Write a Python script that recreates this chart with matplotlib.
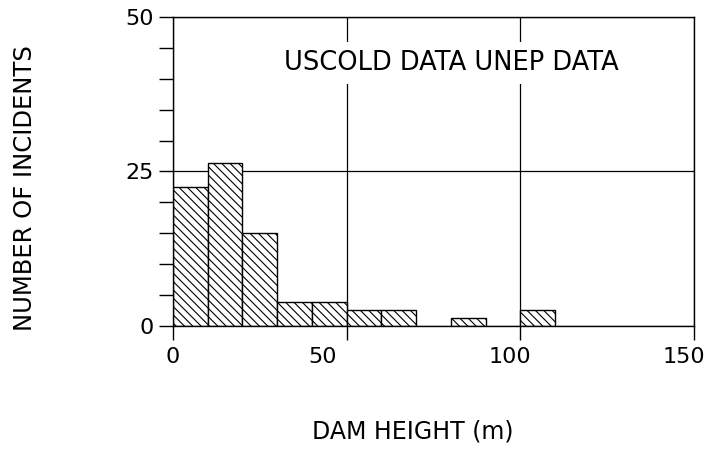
import matplotlib.pyplot as plt
from matplotlib.transforms import ScaledTranslation
import numpy as np

# histogram of incidents by dam height (bins of 10 m)
bin_left = [0, 10, 20, 30, 40, 50, 60, 70, 80, 90, 100]
counts = [22.5, 26.3, 15.1, 3.8, 3.8, 2.6, 2.6, 0, 1.3, 0, 2.6]
bin_width = 10

x_ticks = [0, 50, 100, 150]
y_ticks = [0, 25, 50]

plt.rcParams['font.family'] = ['DejaVu Sans']
plt.rcParams['hatch.linewidth'] = 0.8

fig = plt.figure(figsize=(7.1, 4.5), dpi=100)
ax = fig.add_axes([0.2437, 0.2756, 0.7338, 0.6866])

ax.bar([b for b, c in zip(bin_left, counts) if c > 0],
       [c for c in counts if c > 0],
       width=bin_width, align='edge', color='white',
       edgecolor='black', linewidth=1.0, hatch='\\\\\\\\', zorder=2)

ax.set_xlim(0, 150)
ax.set_ylim(0, 50)
ax.set_xticks(x_ticks)
ax.set_yticks(y_ticks)
ax.set_yticks(np.arange(0, 51, 5), minor=True)
ax.tick_params(axis='both', which='both', direction='out', length=10,
               width=1.0, labelsize=16, colors='black')
ax.tick_params(axis='x', pad=5)
ax.tick_params(axis='y', pad=4)

# the original labels sit a little left of their ticks
shifts = [0, -24, -10, -10]
for lab, dx in zip(ax.get_xticklabels(), shifts):
    lab.set_transform(lab.get_transform() +
                      ScaledTranslation(dx / 100, 0, fig.dpi_scale_trans))

ax.grid(True, which='major', color='black', linewidth=0.9, zorder=1)
ax.set_axisbelow(True)
for sp in ax.spines.values():
    sp.set_linewidth(1.0)
    sp.set_zorder(3)

ax.text(80, 42.6, 'USCOLD DATA UNEP DATA', fontsize=18.5, ha='center',
        va='center', zorder=4,
        bbox=dict(facecolor='white', edgecolor='none', pad=6))

fig.text(0.035, 0.582, 'NUMBER OF INCIDENTS', rotation=90, fontsize=17.5,
         ha='center', va='center')
fig.text(0.582, 0.042, 'DAM HEIGHT (m)', fontsize=17, ha='center', va='center')

fig.savefig('out.png', dpi=100)
